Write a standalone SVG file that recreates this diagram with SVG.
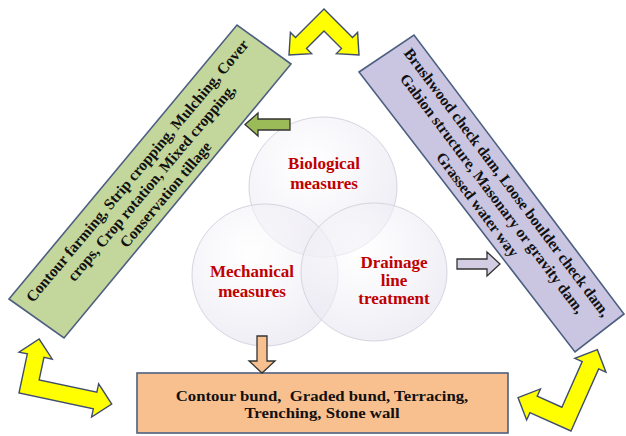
<svg xmlns="http://www.w3.org/2000/svg" width="626" height="436" viewBox="0 0 626 436">
  <defs>
    <radialGradient id="circleFill" cx="0.4" cy="0.35" r="0.7">
      <stop offset="0" stop-color="#ffffff" stop-opacity="0.55"/>
      <stop offset="1" stop-color="#e4e1ee" stop-opacity="0.6"/>
    </radialGradient>
    <style>
      .box { stroke: #4d5f80; stroke-width: 1.6; }
      .green { fill: #c3d69b; }
      .lilac { fill: #cac5e1; }
      .peach { fill: #f9c08f; }
      .boxtext { font-family: "Liberation Serif", "Times New Roman", serif; font-weight: bold; font-size: 15.5px; fill: #111111; text-anchor: middle; }
      .circle { fill: url(#circleFill); stroke: #d6d4e0; stroke-width: 1; }
      .label { font-family: "Liberation Serif", "Times New Roman", serif; font-weight: bold; font-size: 17px; fill: #c00000; text-anchor: middle; }
      .cycle { fill: #ffff00; stroke: #3f4d6e; stroke-width: 1.4; stroke-linejoin: miter; }
      .small { stroke: #333333; stroke-width: 1.3; }
    </style>
  </defs>

  <rect width="626" height="436" fill="#ffffff"/>

  <!-- central overlapping circles -->
  <g id="biological">
    <ellipse class="circle" cx="323" cy="187" rx="74" ry="70"/>
  </g>
  <g id="mechanical">
    <ellipse class="circle" cx="265" cy="275" rx="73" ry="71"/>
  </g>
  <g id="drainage">
    <ellipse class="circle" cx="374" cy="272" rx="73" ry="69"/>
  </g>
  <g id="circle-labels">
    <text class="label" x="324" y="169">Biological</text>
    <text class="label" x="324" y="189">measures</text>
    <text class="label" x="252" y="277">Mechanical</text>
    <text class="label" x="252" y="297">measures</text>
    <text class="label" x="394" y="268">Drainage</text>
    <text class="label" x="394" y="286">line</text>
    <text class="label" x="394" y="304">treatment</text>
  </g>

  <!-- biological measures list -->
  <g id="biological-list">
    <polygon class="box green" points="9,299 237,25 291,64 64,338"/>
    <g transform="translate(150,181.5) rotate(-50)">
      <text class="boxtext" x="0" y="-11.5">Contour farming, Strip cropping, Mulching, Cover</text>
      <text class="boxtext" x="0" y="7">crops, Crop rotation, Mixed cropping,</text>
      <text class="boxtext" x="0" y="25.5">Conservation tillage</text>
    </g>
  </g>

  <!-- drainage line treatment list -->
  <g id="drainage-list">
    <polygon class="box lilac" points="359,72 414,35 624,314 575,352"/>
    <g transform="translate(493,193) rotate(53)">
      <text class="boxtext" x="0" y="-12.5">Brushwood check dam, Loose boulder check dam,</text>
      <text class="boxtext" x="0" y="6">Gabion structure, Masonary or gravity dam,</text>
      <text class="boxtext" x="0" y="24.5">Grassed water way</text>
    </g>
  </g>

  <!-- mechanical measures list -->
  <g id="mechanical-list">
    <rect class="box peach" x="137" y="373" width="371" height="60"/>
    <g transform="translate(322,0) scale(1.08,1)">
      <text class="boxtext" x="0" y="401" font-size="15" xml:space="preserve">Contour bund,  Graded bund, Terracing,</text>
      <text class="boxtext" x="0" y="418" font-size="15">Trenching, Stone wall</text>
    </g>
  </g>

  <g id="connectors">
    <!-- block arrows from each measure to its list -->
    <polygon class="small" fill="#9bbb59" points="245,124.5 258,113 258,119 290,119 290,130 258,130 258,136"/>
    <polygon class="small" fill="#d3cde3" points="457,259 487,259 487,252 500,264 487,276 487,269 457,269"/>
    <polygon class="small" fill="#f9c08f" points="257,336 267,336 267,361 275,361 262,373 249,361 257,361"/>

    <!-- yellow cycle arrows linking the three lists -->
    <polygon class="cycle" points="324,9 352.5,37.5 357.6,32.4 359,55 336.4,53.6 341.5,48.5 324,31 306.5,48.5 311.6,53.6 289,55 290.4,32.4 295.5,37.5"/>
    <polygon class="cycle" transform="translate(19,393) rotate(12)" points="0,0 0,-40 -8.5,-40 8.5,-57 25.5,-40 17,-40 17,-17 76,-17 76,-25.5 93,-8.5 76,8.5 76,0"/>
    <polygon class="cycle" transform="translate(571,431) rotate(24)" points="0,0 0,-68 8,-68 -9,-85 -26,-68 -18,-68 -18,-18 -45,-18 -45,-26 -62,-9 -45,8 -45,0"/>
  </g>
</svg>
